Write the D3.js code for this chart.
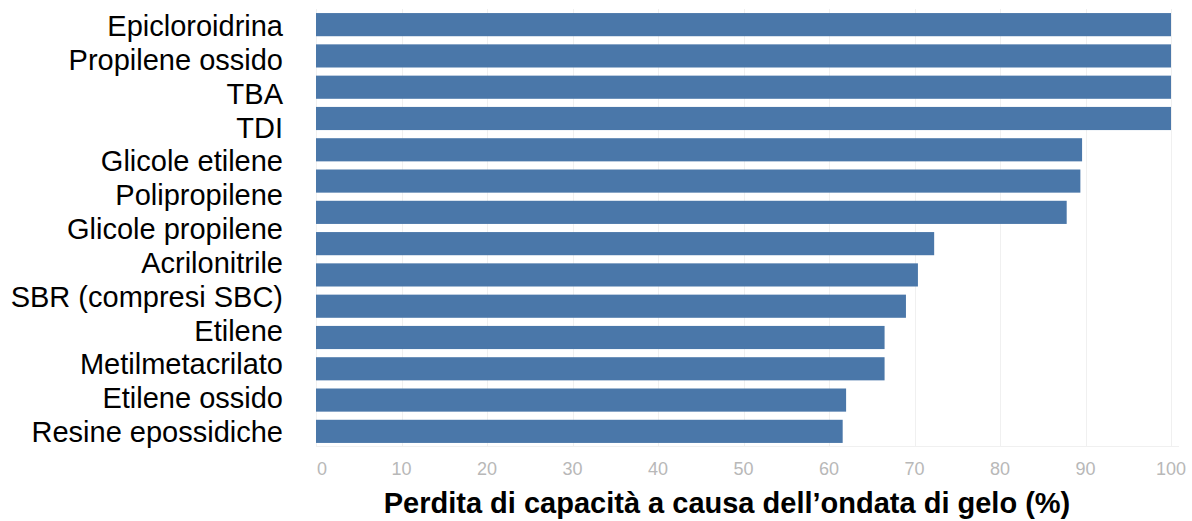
<!DOCTYPE html>
<meta charset="utf-8"/>
<head>
<script src="https://d3js.org/d3.v7.min.js"></script>
<style>
  body { margin: 0; background: #fff; }
  svg { display: block; background: #fff; }
  .grid line { stroke: #f0f0f0; stroke-width: 1px; shape-rendering: crispEdges; }
  .bar { fill: #4a77a9; }
  .catLabel { font-family: 'Liberation Sans', Arial, sans-serif; font-size: 29px; fill: #000; }
  .tickLabel { font-family: 'Liberation Sans', Arial, sans-serif; font-size: 18px; fill: #b8b8b8; }
  .axisTitle { font-family: 'Liberation Sans', Arial, sans-serif; font-size: 29px; font-weight: bold; fill: #000; }
</style>
</head>
<body>
<div id="chart"></div>
<script type="text/javascript">

// category names (left side)
var categories = ["Epicloroidrina", "Propilene ossido", "TBA", "TDI", "Glicole etilene",
  "Polipropilene", "Glicole propilene", "Acrilonitrile", "SBR (compresi SBC)", "Etilene",
  "Metilmetacrilato", "Etilene ossido", "Resine epossidiche"];

// bar lengths, top to bottom (%)
var barValues = [100, 100, 100, 100, 89.6, 89.4, 87.8, 72.3, 70.4, 69.0, 66.5, 66.5, 62.0, 61.6];

var tickValues = [0, 10, 20, 30, 40, 50, 60, 70, 80, 90, 100];
var axisTitle = "Perdita di capacità a causa dell’ondata di gelo (%)";

var outerWidth = 1192,
    outerHeight = 521;

var svg = d3.select("#chart")
  .append("svg")
  .attr("width", outerWidth)
  .attr("height", outerHeight);

var x = d3.scaleLinear()
  .domain([0, 100])
  .range([316, 1171]);

var y = d3.scaleBand()
  .domain(d3.range(barValues.length))
  .range([9, 447])
  .paddingInner(0.26)
  .paddingOuter(0.13);

var yLab = d3.scalePoint()
  .domain(categories)
  .range([36, 442]);

// faint grid
var grid = svg.append("g").attr("class", "grid");
grid.selectAll(".vline")
  .data(tickValues)
  .enter().append("line")
  .attr("class", "vline")
  .attr("x1", function(d) { return Math.round(x(d)) + 0.5; })
  .attr("x2", function(d) { return Math.round(x(d)) + 0.5; })
  .attr("y1", 9)
  .attr("y2", 446);
grid.append("line")
  .attr("x1", x(0))
  .attr("x2", x(100) + 8)
  .attr("y1", 446.5)
  .attr("y2", 446.5);

svg.selectAll(".bar")
  .data(barValues)
  .enter().append("rect")
  .attr("class", "bar")
  .attr("x", x(0))
  .attr("y", function(d, i) { return y(i); })
  .attr("width", function(d) { return x(d) - x(0); })
  .attr("height", y.bandwidth());

svg.selectAll(".catLabel")
  .data(categories)
  .enter().append("text")
  .attr("class", "catLabel")
  .attr("text-anchor", "end")
  .attr("x", 283)
  .attr("y", function(d) { return yLab(d); })
  .text(function(d) { return d; });

svg.selectAll(".tickLabel")
  .data(tickValues)
  .enter().append("text")
  .attr("class", "tickLabel")
  .attr("text-anchor", "middle")
  .attr("x", function(d) { return d == 0 ? x(d) + 6 : x(d); })
  .attr("y", 475)
  .text(function(d) { return d; });

svg.append("text")
  .attr("class", "axisTitle")
  .attr("text-anchor", "middle")
  .attr("x", 727)
  .attr("y", 513)
  .text(axisTitle);

</script>
</body>
